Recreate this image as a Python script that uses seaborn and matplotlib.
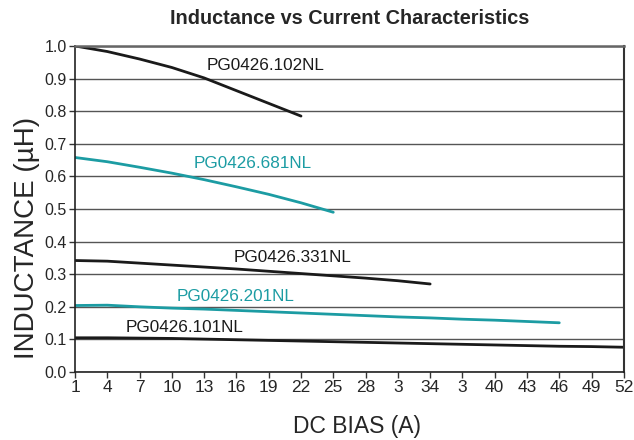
import numpy as np
import pandas as pd
import matplotlib
matplotlib.use("Agg")
import matplotlib.pyplot as plt
import seaborn as sns

# DC bias (A) sample points and inductance (uH)
x_102 = [1, 4, 7, 10, 13, 16, 19, 22]
y_102 = [1.0, 0.983, 0.960, 0.934, 0.902, 0.863, 0.824, 0.785]

x_681 = [1, 4, 7, 10, 13, 16, 19, 22, 25]
y_681 = [0.658, 0.645, 0.628, 0.610, 0.590, 0.568, 0.545, 0.519, 0.490]

x_331 = [1, 4, 7, 10, 13, 16, 19, 22, 25, 28, 31, 34]
y_331 = [0.342, 0.340, 0.334, 0.328, 0.322, 0.316, 0.309, 0.302, 0.295, 0.288, 0.280, 0.270]

x_201 = [1, 4, 7, 10, 13, 16, 19, 22, 25, 28, 31, 34, 37, 40, 43, 46]
y_201 = [0.204, 0.205, 0.200, 0.196, 0.193, 0.189, 0.185, 0.181, 0.177,
         0.173, 0.169, 0.166, 0.162, 0.159, 0.155, 0.151]

x_101 = [1, 4, 7, 10, 13, 16, 19, 22, 25, 28, 31, 34, 37, 40, 43, 46, 49, 52]
y_101 = [0.105, 0.105, 0.104, 0.103, 0.101, 0.099, 0.097, 0.095, 0.093,
         0.091, 0.089, 0.087, 0.085, 0.083, 0.081, 0.079, 0.078, 0.076]

tick_pos = [1, 4, 7, 10, 13, 16, 19, 22, 25, 28, 31, 34, 37, 40, 43, 46, 49, 52]
tick_labels = ['1', '4', '7', '10', '13', '16', '19', '22', '25', '28', '3', '34',
               '3', '40', '43', '46', '49', '52']

# label text, position (data coords)
labels = [
    ('PG0426.102NL', 18.7, 0.939),
    ('PG0426.681NL', 17.5, 0.641),
    ('PG0426.331NL', 21.2, 0.350),
    ('PG0426.201NL', 15.9, 0.233),
    ('PG0426.101NL', 11.2, 0.138),
]

black = '#1a1a1a'
teal = '#1c9ca3'

sns.set_style('white')
plt.rcParams['font.family'] = ['Liberation Sans', 'DejaVu Sans']

fig = plt.figure(figsize=(6.34, 4.40), dpi=100)
ax = fig.add_axes([0.1183, 0.1545, 0.984 - 0.1183, 0.8955 - 0.1545])

series = [(x_102, y_102, black), (x_681, y_681, teal), (x_331, y_331, black),
          (x_201, y_201, teal), (x_101, y_101, black)]
for xs, ys, c in series:
    sns.lineplot(x=xs, y=ys, ax=ax, color=c, linewidth=2.0)

lab_colors = [black, teal, black, teal, black]
for (t, lx, ly), c in zip(labels, lab_colors):
    ax.text(lx, ly, t, color=c, fontsize=12.3, ha='center', va='center')

ax.set_xlim(1, 52)
ax.set_ylim(0, 1.0)
ax.set_yticks(np.arange(0, 1.01, 0.1))
ax.set_yticklabels([f'{v:.1f}' for v in np.arange(0, 1.01, 0.1)], fontsize=11.5)
ax.set_xticks(tick_pos)
ax.set_xticklabels(tick_labels, fontsize=12.5)
ax.tick_params(axis='both', direction='out', length=4, width=1, color='#333333',
               bottom=True, left=True, pad=2)

ax.grid(axis='y', color='#555555', linewidth=1)
ax.grid(axis='x', visible=False)
for side in ['left', 'bottom']:
    ax.spines[side].set_color('#222222')
    ax.spines[side].set_linewidth(1.2)
ax.spines['top'].set_color('#666666')
ax.spines['top'].set_linewidth(1.8)
ax.spines['right'].set_color('#333333')
ax.spines['right'].set_linewidth(1.5)

ax.set_xlabel('DC BIAS (A)', fontsize=16.5, labelpad=14)
ax.xaxis.label.set_x(0.513)
ax.set_ylabel('INDUCTANCE (µH)', fontsize=20, labelpad=3)
ax.yaxis.label.set_y(0.41)
ax.set_title('Inductance vs Current Characteristics', fontsize=14.3,
             fontweight='bold', pad=16)

fig.savefig('out.png', dpi=100)
